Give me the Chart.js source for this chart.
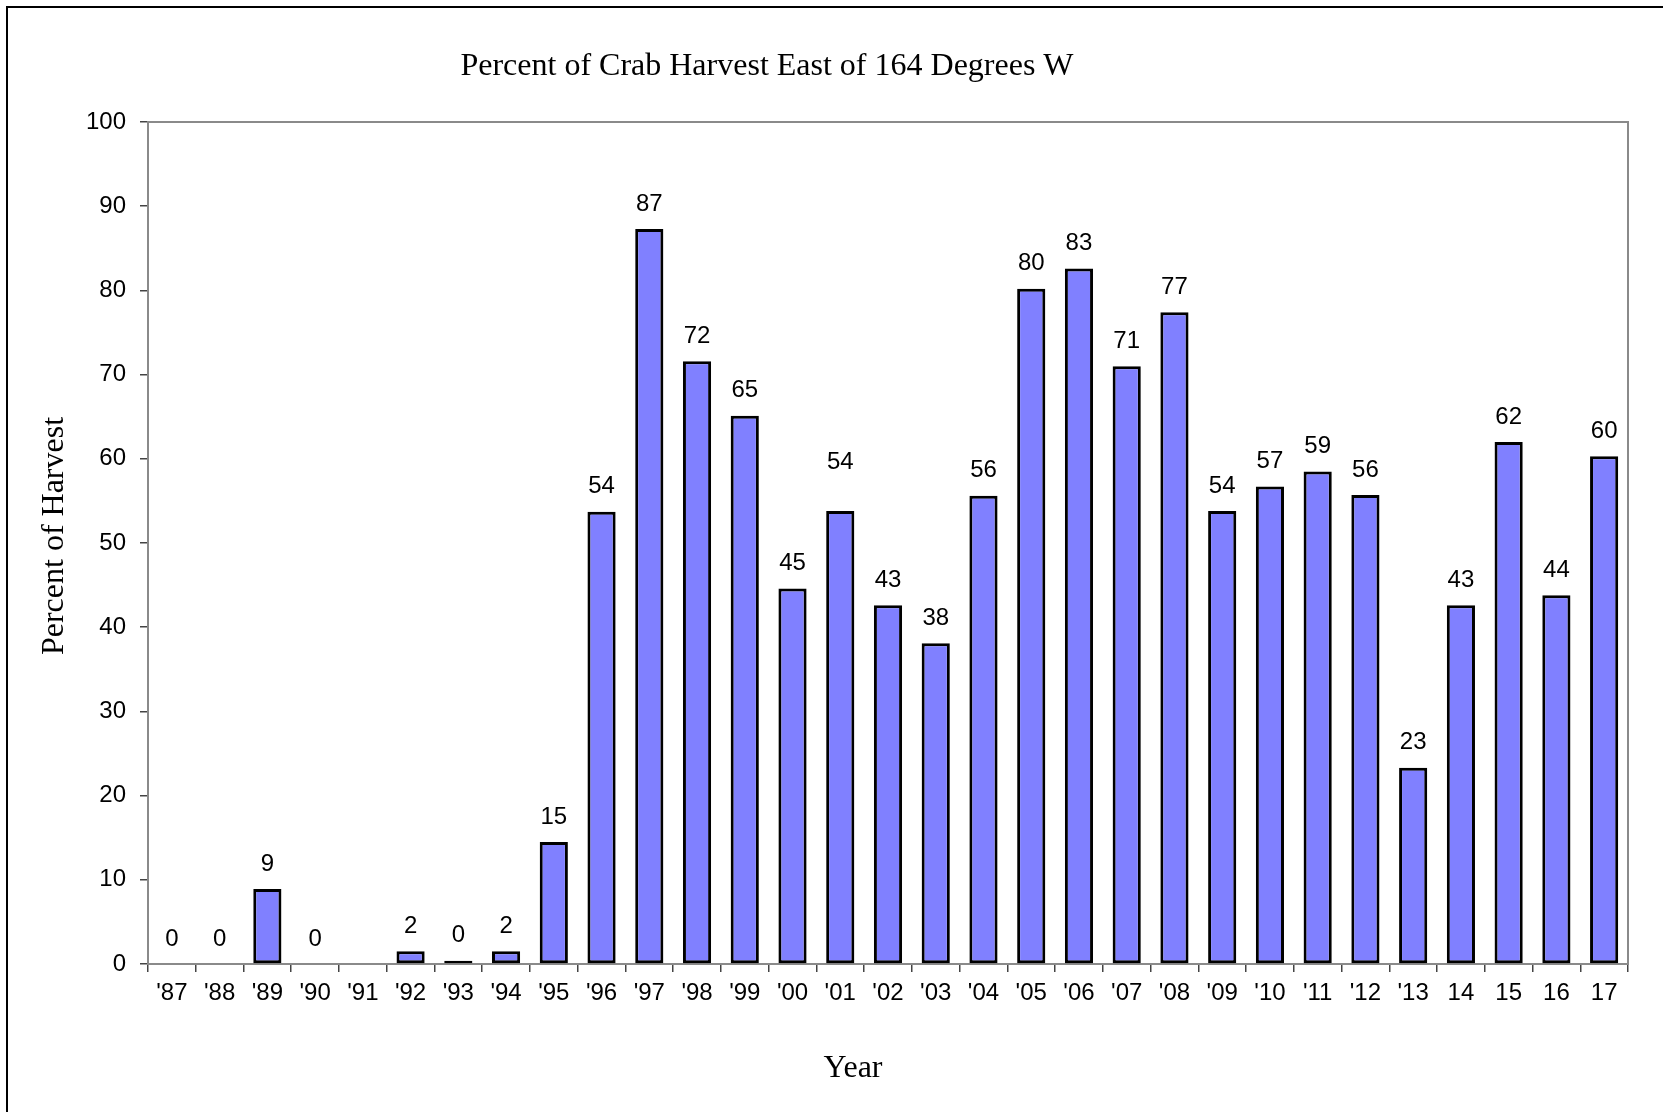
<!DOCTYPE html>
<html>
<head>
<meta charset="utf-8">
<script src="https://cdn.jsdelivr.net/npm/chart.js@4.4.0/dist/chart.umd.min.js"></script>
<style>
  html, body { margin: 0; padding: 0; background: #fff; overflow: hidden; }
  #frame { position: absolute; left: 6px; top: 6px; width: 1800px; height: 1300px; border-left: 2px solid #000; border-top: 2px solid #000; }
  #wrap { position: absolute; left: 0; top: 0; width: 1663px; height: 1112px; }
</style>
</head>
<body>
<div id="frame"></div>
<div id="wrap"><canvas id="chart" width="1663" height="1112"></canvas></div>
<script>
const years = ["'87", "'88", "'89", "'90", "'91", "'92", "'93", "'94", "'95", "'96", "'97", "'98", "'99", "'00",
  "'01", "'02", "'03", "'04", "'05", "'06", "'07", "'08", "'09", "'10", "'11", "'12", "'13", "14", "15", "16", "17"];
const percentEast = [0, 0, 8.9, 0, null, 1.5, 0.4, 1.5, 14.5, 53.7, 87.3, 71.6, 65.1, 44.6,
  53.8, 42.6, 38.1, 55.6, 80.2, 82.6, 71.0, 77.4, 53.8, 56.7, 58.5, 55.7, 23.3, 42.6, 62.0, 43.8, 60.3];
const yTicks = [0, 10, 20, 30, 40, 50, 60, 70, 80, 90, 100];

const chartTitle = 'Percent of Crab Harvest East of 164 Degrees W';
const xTitle = 'Year';
const yTitle = 'Percent of Harvest';

const serif = "'Liberation Serif', 'Times New Roman', serif";
const sans = "'Liberation Sans', Arial, sans-serif";

// gray frame round the plot area
const plotFrame = {
  id: 'plotFrame',
  beforeDatasetsDraw(chart) {
    const { ctx, chartArea: a } = chart;
    ctx.save();
    ctx.strokeStyle = '#8a8a8a';
    ctx.lineWidth = 2;
    ctx.strokeRect(a.left, a.top, a.right - a.left, a.bottom - a.top);
    ctx.restore();
  }
};

// value labels above the bars
const barLabels = {
  id: 'barLabels',
  afterDatasetsDraw(chart, args, opts) {
    const { ctx } = chart;
    const meta = chart.getDatasetMeta(0);
    ctx.save();
    ctx.font = '24px ' + sans;
    ctx.fillStyle = '#000';
    ctx.textAlign = 'center';
    ctx.textBaseline = 'middle';
    meta.data.forEach((bar, i) => {
      const v = percentEast[i];
      if (v === null) return;
      const lift = 25 + (opts.extraLift[i] || 0);
      ctx.fillText(String(Math.round(v)), bar.x, bar.y - lift);
    });
    ctx.restore();
  }
};

// chart and axis titles
const titles = {
  id: 'titles',
  afterDraw(chart) {
    const { ctx } = chart;
    ctx.save();
    ctx.fillStyle = '#000';
    ctx.font = '32px ' + serif;
    ctx.textAlign = 'center';
    ctx.textBaseline = 'middle';
    ctx.fillText(chartTitle, 767, 67);
    ctx.fillText(xTitle, 853, 1069);
    ctx.translate(55, 536);
    ctx.rotate(-Math.PI / 2);
    ctx.fillText(yTitle, 0, 0);
    ctx.restore();
  }
};

new Chart(document.getElementById('chart'), {
  type: 'bar',
  data: {
    labels: years,
    datasets: [{
      data: percentEast,
      backgroundColor: '#8080ff',
      borderColor: '#000',
      borderWidth: 3,
      borderSkipped: false,
      categoryPercentage: 1,
      barPercentage: 0.59
    }]
  },
  options: {
    responsive: false,
    animation: false,
    layout: { padding: { top: 122, right: 35, left: 0, bottom: 0 } },
    plugins: {
      legend: { display: false },
      tooltip: { enabled: false },
      barLabels: { extraLift: { 14: 24 } }
    },
    scales: {
      x: {
        afterFit(scale) { scale.height = 148; },
        grid: { offset: true, drawOnChartArea: false, tickLength: 8, color: '#444', lineWidth: 1.5 },
        border: { display: true, color: '#000', width: 2 },
        ticks: { color: '#000', font: { family: sans, size: 24 }, padding: 7, maxRotation: 0, autoSkip: false }
      },
      y: {
        min: 0,
        max: 100,
        afterFit(scale) { scale.width = 148; },
        afterBuildTicks(scale) { scale.ticks = yTicks.map(v => ({ value: v })); },
        grid: { drawOnChartArea: false, tickLength: 8, color: '#444', lineWidth: 1.5 },
        border: { display: true, color: '#444', width: 2 },
        ticks: { color: '#000', font: { family: sans, size: 24 }, padding: 14 }
      }
    }
  },
  plugins: [plotFrame, barLabels, titles]
});
</script>
</body>
</html>
